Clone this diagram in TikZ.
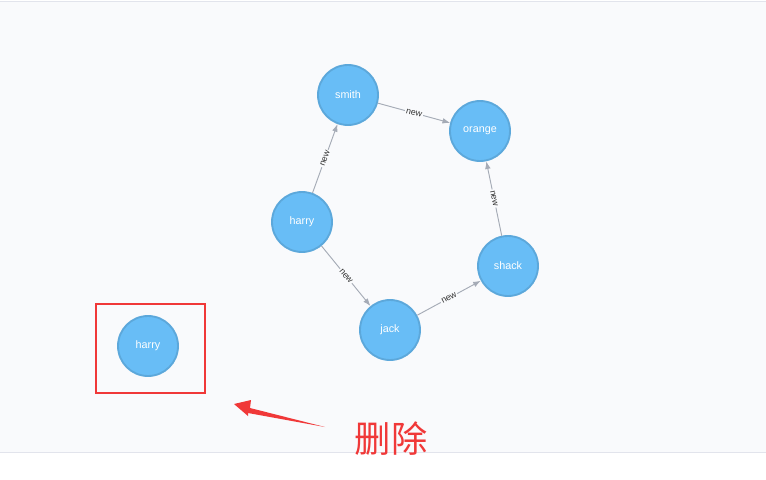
\documentclass[tikz,border=0pt]{standalone}
\usepackage{fontspec}
\setmainfont{Liberation Sans}
\newfontfamily\cjk{Noto Sans CJK SC}
\usetikzlibrary{arrows.meta}
\definecolor{panelbg}{RGB}{249,250,252}
\definecolor{panelline}{RGB}{226,228,236}
\definecolor{nodefill}{RGB}{104,189,246}
\definecolor{nodeline}{RGB}{92,168,219}
\definecolor{relgray}{RGB}{165,171,182}
\definecolor{marked}{RGB}{240,56,56}
\tikzset{
  person/.style={circle,draw=nodeline,line width=1.6pt,fill=nodefill,
                 minimum size=18mm,inner sep=0pt,text=white,font=\fontsize{9.2}{10}\selectfont},
  rel/.style={draw=relgray,line width=0.8pt,-{Latex[length=2.3mm,width=1.7mm]}},
  rellab/.style={midway,sloped,fill=panelbg,inner sep=1pt,text=black!80,
                 font=\fontsize{7.5}{8}\selectfont},
  markbox/.style={draw=marked,line width=2.1pt},
}

\begin{document}
\begin{tikzpicture}[x=0.03cm,y=-0.03cm]
  \path[use as bounding box] (0,0) rectangle (766,479);
  \fill[white] (0,0) rectangle (766,479);
  \fill[panelbg] (0,1) rectangle (766,452);
  \draw[panelline,line width=0.8pt] (0,1)--(766,1);
  \draw[panelline,line width=0.8pt] (0,452.5)--(766,452.5);

  \node[person] (smith) at (348,95) {smith};
  \node[person] (orange) at (480,131) {orange};
  \node[person] (harry) at (302,222) {harry};
  \node[person] (shack) at (508,266) {shack};
  \node[person] (jack) at (390,330) {jack};
  \node[person] (harryold) at (148,346) {harry};

  \draw[rel] (harry) -- node[rellab] {new} (smith);
  \draw[rel] (smith) -- node[rellab] {new} (orange);
  \draw[rel] (harry) -- node[rellab] {new} (jack);
  \draw[rel] (jack) -- node[rellab] {new} (shack);
  \draw[rel] (shack) -- node[rellab] {new} (orange);

  % deleted node marker
  \node[markbox,minimum width=109*0.03cm,minimum height=89*0.03cm] (box) at (150.5,348.5) {};
  \coordinate (tip) at (234,404);
  \fill[marked] (tip) -- (251,400) -- (250,408) -- (325,427) -- (248,413) -- (248,416) -- cycle;
  \node[text=marked,font=\cjk\fontsize{31}{34}\selectfont] (del) at (391,439) {删除};
\end{tikzpicture}
\end{document}
